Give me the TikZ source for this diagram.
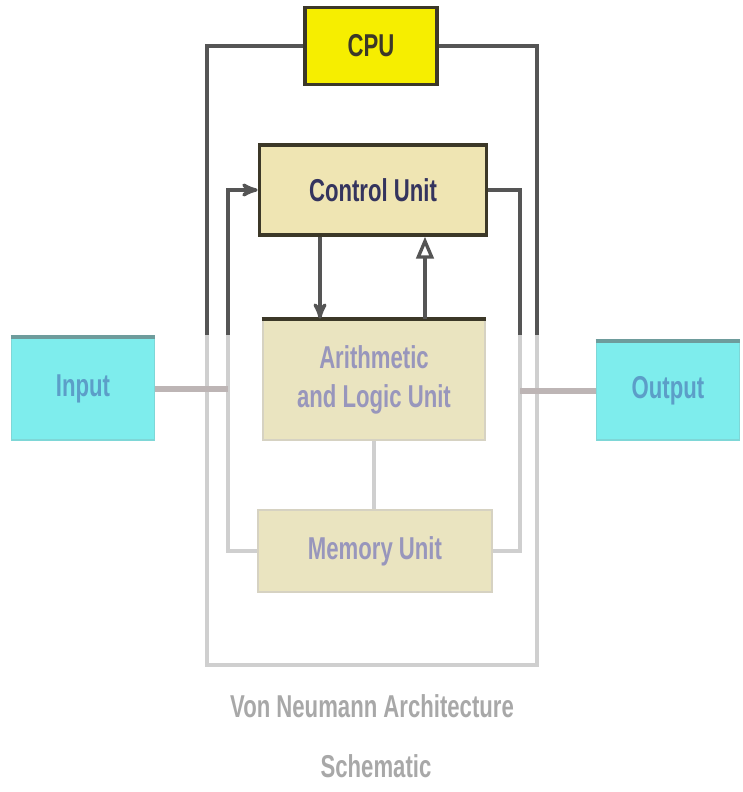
\documentclass[tikz,border=0pt]{standalone}
\usepackage{fontspec}
\newfontfamily\unitfont[FakeStretch=0.7]{Liberation Sans}
\usepackage{tikz}
\usetikzlibrary{
  arrows
}
\definecolor{cpuyellow}{HTML}{F6EE00}
\definecolor{boxline}{HTML}{3C3828}
\definecolor{unitfill}{HTML}{EFE5B3}
\definecolor{unittext}{HTML}{34345E}
\definecolor{fadefill}{HTML}{EAE4C0}
\definecolor{fadeline}{HTML}{D6D2C2}
\definecolor{fadetext}{HTML}{9896BC}
\definecolor{devfill}{HTML}{7EEDED}
\definecolor{devtop}{HTML}{6E9C9C}
\definecolor{devtext}{HTML}{5C9EC8}
\definecolor{busdark}{HTML}{555555}
\definecolor{buslight}{HTML}{CFCFCF}
\definecolor{linkgrey}{HTML}{BDB5B5}
\definecolor{captext}{HTML}{A8A8A8}
\tikzset{
  x=0.02cm, y=-0.02cm,
  >=stealth',
  label font/.style={font=\unitfont\bfseries\fontsize{18}{22}\selectfont},
  cpubox/.style={draw=boxline, line width=2.2pt, fill=cpuyellow, text=boxline, label font},
  unit/.style={draw=boxline, line width=2.2pt, fill=unitfill, text=unittext, label font, align=center},
  fadedunit/.style={draw=fadeline, line width=1.5pt, fill=fadefill, text=fadetext, label font, align=center},
  device/.style={draw=devfill!80!gray, line width=1pt, fill=devfill, text=devtext, label font},
  bus/.style={draw=busdark, line width=1.9pt},
  fadedbus/.style={draw=buslight, line width=2.6pt},
  link/.style={draw=linkgrey, line width=3.4pt},
  caption/.style={text=captext, label font}
}

\begin{document}
\begin{tikzpicture}
    \useasboundingbox (0,0) rectangle (743,792);
    \node[cpubox, minimum width=2.64cm, minimum height=1.54cm] (cpu) at (371,46) {CPU};
    \node[unit, minimum width=4.54cm, minimum height=1.8cm] (ctrl) at (373,190) {Control Unit};
    \node[fadedunit, minimum width=4.44cm, minimum height=2.4cm] (alu) at (374,380) {Arithmetic\\and Logic Unit};
    \node[fadedunit, minimum width=4.68cm, minimum height=1.64cm] (mem) at (375,551) {Memory Unit};
    \node[device, minimum width=2.86cm, minimum height=2.04cm] (in) at (83,389) {Input};
    \node[device, minimum width=2.86cm, minimum height=1.96cm] (out) at (668,391) {Output};
    \node[caption] (cap1) at (372,706) {Von Neumann Architecture};
    \node[caption] (cap2) at (376,766) {Schematic};
    % edges where the picture fades out
    \coordinate (lfade) at (207,335);
    \coordinate (rfade) at (537,335);
    \coordinate (ilfade) at (228,335);
    \coordinate (irfade) at (520,335);
    \coordinate (lo) at (207,665);
    \coordinate (ro) at (537,665);
    \draw[boxline, line width=2.2pt] (alu.north west) -- (alu.north east);
    \draw[devtop, line width=2pt] (in.north west) -- (in.north east);
    \draw[devtop, line width=2pt] (out.north west) -- (out.north east);
    % outer bus
    \draw[bus] (cpu.west) -| (lfade);
    \draw[bus] (cpu.east) -| (rfade);
    \draw[fadedbus] (lfade) -- (lo) -- (ro) -- (rfade);
    % inner bus
    \draw[bus, ->] (ilfade) |- (ctrl.west);
    \draw[bus] (ctrl.east) -| (irfade);
    \draw[fadedbus] (ilfade) |- (mem.west);
    \draw[fadedbus] (irfade) |- (mem.east);
    \draw[bus, ->] ([xshift=-1.06cm]ctrl.south) -- ([xshift=-1.06cm]ctrl.south |- alu.north);
    \draw[bus, -open triangle 45] ([xshift=1.04cm]ctrl.south |- alu.north) -- ([xshift=1.04cm]ctrl.south);
    \draw[fadedbus] (alu.south) -- (alu.south |- mem.north);
    \draw[link] (in.east) -- (in.east -| ilfade);
    \draw[link] (out.west -| irfade) -- (out.west);
\end{tikzpicture}
\end{document}
